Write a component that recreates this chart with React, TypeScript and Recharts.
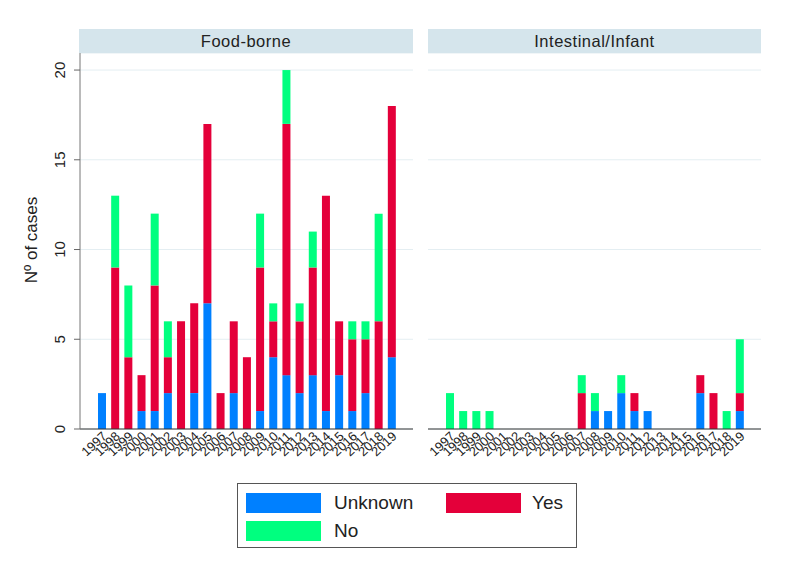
import React from "react";
import { BarChart, Bar, XAxis, YAxis, CartesianGrid } from "recharts";

const years = [
  "1997", "1998", "1999", "2000", "2001", "2002", "2003", "2004", "2005", "2006", "2007", "2008",
  "2009", "2010", "2011", "2012", "2013", "2014", "2015", "2016", "2017", "2018", "2019",
];

// Food-borne panel
const foodUnknown = [2, 0, 0, 1, 1, 2, 0, 2, 7, 0, 2, 0, 1, 4, 3, 2, 3, 1, 3, 1, 2, 0, 4];
const foodYes = [0, 9, 4, 2, 7, 2, 6, 5, 10, 2, 4, 4, 8, 2, 14, 4, 6, 12, 3, 4, 3, 6, 14];
const foodNo = [0, 4, 4, 0, 4, 2, 0, 0, 0, 0, 0, 0, 3, 1, 3, 1, 2, 0, 0, 1, 1, 6, 0];

// Intestinal/Infant panel
const intUnknown = [0, 0, 0, 0, 0, 0, 0, 0, 0, 0, 0, 1, 1, 2, 1, 1, 0, 0, 0, 2, 0, 0, 1];
const intYes = [0, 0, 0, 0, 0, 0, 0, 0, 0, 0, 2, 0, 0, 0, 1, 0, 0, 0, 0, 1, 2, 0, 1];
const intNo = [2, 1, 1, 1, 0, 0, 0, 0, 0, 0, 1, 1, 0, 1, 0, 0, 0, 0, 0, 0, 0, 1, 3];

const yTicks = [0, 5, 10, 15, 20];
const panels = ["Food-borne", "Intestinal/Infant"];

const series = [
  { key: "unknown", name: "Unknown", color: "#0080ff" },
  { key: "yes", name: "Yes", color: "#e4003a" },
  { key: "no", name: "No", color: "#00ff7f" },
];

const FONT = "'Liberation Sans', Arial, sans-serif";

const build = (u: number[], y: number[], n: number[]) =>
  years.map((yr, i) => ({ year: yr, unknown: u[i], yes: y[i], no: n[i] }));

const foodData = build(foodUnknown, foodYes, foodNo);
const intData = build(intUnknown, intYes, intNo);

const XTick = (props: any) => {
  const { x, y, payload } = props;
  const tx = x + 3;
  const ty = y + 5;
  return (
    <text
      x={tx}
      y={ty}
      transform={`rotate(-43 ${tx} ${ty})`}
      textAnchor="end"
      dy="0.35em"
      fontSize={13}
      fontFamily={FONT}
      fill="#222"
    >
      {payload.value}
    </text>
  );
};

const YTick = (props: any) => {
  const { x, y, payload } = props;
  const tx = x - 9;
  return (
    <text
      x={tx}
      y={y}
      transform={`rotate(-90 ${tx} ${y})`}
      textAnchor="middle"
      fontSize={15}
      fontFamily={FONT}
      fill="#222"
    >
      {payload.value}
    </text>
  );
};

// left panel plot: x 80..413, right panel plot: x 428..761
function Panel({ data, showY, width, left }: { data: any[]; showY: boolean; width: number; left: number }) {
  return (
    <BarChart
      width={width}
      height={426}
      data={data}
      margin={{ top: 0, right: showY ? 7 : 0, bottom: 0, left }}
      barSize={8}
    >
      <CartesianGrid horizontal vertical={false} stroke="#e4eef2" />
      <XAxis
        dataKey="year"
        interval={0}
        height={50}
        padding={{ left: 15, right: 15 }}
        tickLine={false}
        tickSize={0}
        tickMargin={0}
        tick={<XTick />}
        axisLine={{ stroke: "#333" }}
      />
      <YAxis
        hide={!showY}
        width={80}
        domain={[0, 20.95]}
        ticks={yTicks}
        tickSize={6}
        tickMargin={0}
        tickLine={{ stroke: "#666" }}
        axisLine={{ stroke: "#777" }}
        tick={<YTick />}
      />
      {series.map((s) => (
        <Bar key={s.key} dataKey={s.key} stackId="a" fill={s.color} isAnimationActive={false} />
      ))}
    </BarChart>
  );
}

export default function App() {
  return (
    <div
      style={{
        position: "absolute",
        left: 0,
        top: 0,
        width: 792,
        height: 578,
        background: "#fff",
        fontFamily: FONT,
        color: "#222",
      }}
    >
      {panels.map((p, i) => (
        <div
          key={p}
          style={{
            position: "absolute",
            left: i === 0 ? 79 : 428,
            top: 29,
            width: i === 0 ? 334 : 333,
            height: 24,
            background: "#d5e5ec",
            fontSize: 16.5,
            letterSpacing: 0.5,
            lineHeight: "25px",
            textAlign: "center",
          }}
        >
          {p}
        </div>
      ))}
      <div style={{ position: "absolute", left: 0, top: 53 }}>
        <Panel data={foodData} showY width={420} left={0} />
      </div>
      <div style={{ position: "absolute", left: 398, top: 53 }}>
        <Panel data={intData} showY={false} width={363} left={30} />
      </div>
      <div
        style={{
          position: "absolute",
          left: 32,
          top: 240,
          transform: "translate(-50%, -50%) rotate(-90deg)",
          fontSize: 17,
          whiteSpace: "nowrap",
        }}
      >
        Nº of cases
      </div>
      <div
        style={{
          position: "absolute",
          left: 237,
          top: 483,
          width: 338,
          height: 63,
          border: "1px solid #555",
          background: "#fff",
        }}
      >
        {series.map((s, i) => (
          <div
            key={s.key}
            style={{
              position: "absolute",
              left: i === 1 ? 208 : 8,
              top: i === 2 ? 36 : 8,
              display: "flex",
              alignItems: "center",
              height: 21,
            }}
          >
            <div style={{ width: 75, height: 20, background: s.color }} />
            <span style={{ marginLeft: i === 1 ? 11 : 13, fontSize: 19 }}>{s.name}</span>
          </div>
        ))}
      </div>
    </div>
  );
}
